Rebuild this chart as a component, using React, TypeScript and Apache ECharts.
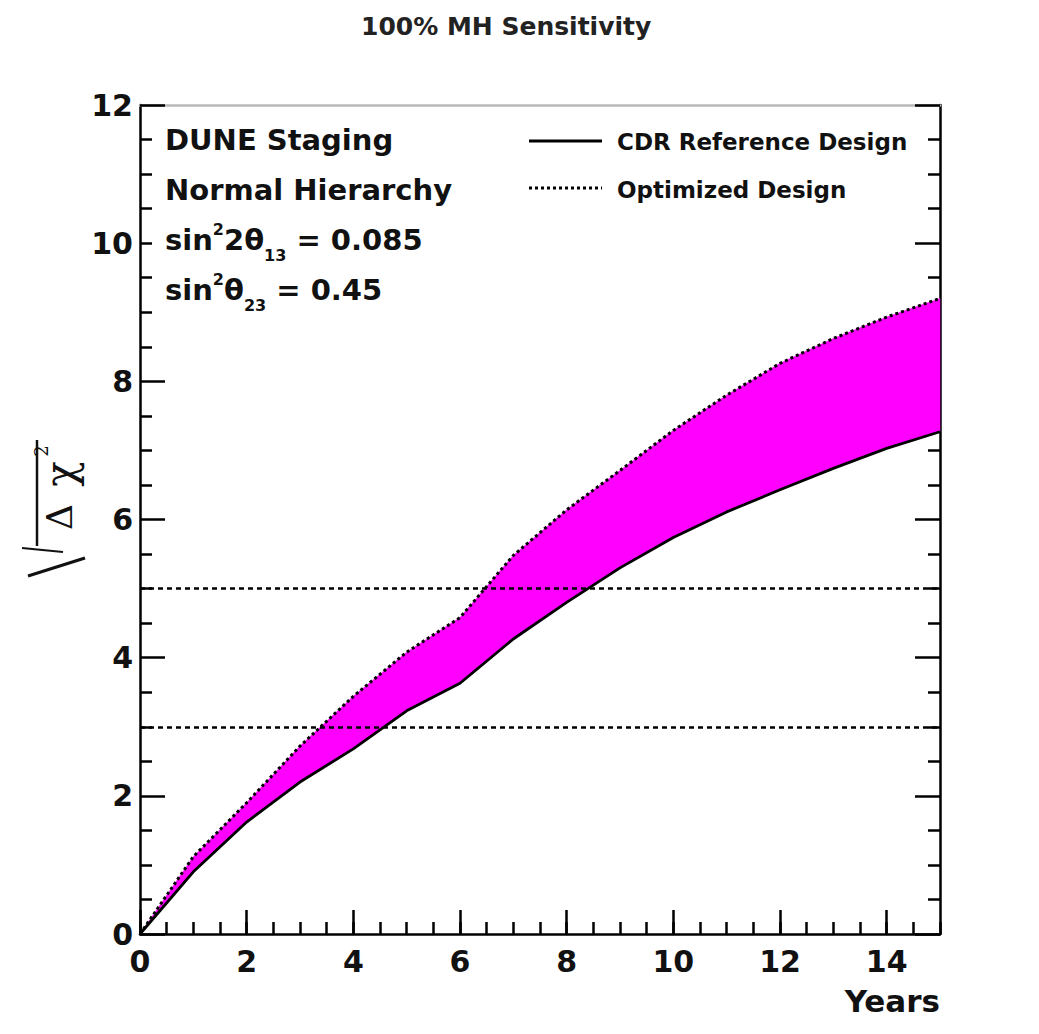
import React, { useEffect, useRef } from "react";
import * as echarts from "echarts";

// ---- data ----
const years = [0, 1, 2, 3, 4, 5, 6, 7, 8, 9, 10, 11, 12, 13, 14, 15];
const cdrReference = [0, 0.9, 1.62, 2.2, 2.68, 3.23, 3.63, 4.27, 4.8, 5.3, 5.74, 6.11, 6.43, 6.74, 7.03, 7.27];
const optimized = [0, 1.12, 1.9, 2.72, 3.44, 4.08, 4.58, 5.48, 6.14, 6.71, 7.29, 7.8, 8.26, 8.62, 8.93, 9.2];
const referenceLevels = [3, 5];
const seriesNames = ["CDR Reference Design", "Optimized Design"];
const titleText = "100% MH Sensitivity";
const xAxisName = "Years";

const SANS = '"DejaVu Sans"';
const SERIF = '"DejaVu Serif"';

function measure(text: string, font: string): number {
  const c = document.createElement("canvas").getContext("2d");
  if (!c) return text.length * 10;
  c.font = font;
  return c.measureText(text).width;
}

type Seg = { t: string; size: number; dy: number };

function segText(x0: number, yc: number, segs: Seg[], z: number) {
  let x = x0;
  const out: any[] = [];
  for (const s of segs) {
    const font = `bold ${s.size}px ${SANS}`;
    out.push({
      type: "text",
      z,
      x,
      y: yc + s.dy,
      style: {
        text: s.t,
        font,
        fill: "#111",
        align: "left",
        verticalAlign: "middle",
        textAlign: "left",
        textVerticalAlign: "middle",
      },
    });
    x += measure(s.t, font);
  }
  return out;
}

function txt(x: number, y: number, text: string, size: number, align: string, extra: any = {}) {
  const { font, ...rest } = extra;
  return {
    type: "text",
    z: 60,
    x,
    y,
    ...rest,
    style: {
      text,
      font: font || `bold ${size}px ${SANS}`,
      fill: "#111",
      align,
      verticalAlign: "middle",
      textAlign: align,
      textVerticalAlign: "middle",
    },
  };
}

export default function App() {
  const ref = useRef<HTMLDivElement>(null);

  useEffect(() => {
    if (!ref.current) return;
    const chart = echarts.init(ref.current, null, { renderer: "svg" });

    const axisFont = { fontFamily: SANS, fontWeight: "bold" as const, fontSize: 30, color: "#111" };
    const black = "#000";

    const graphic: any[] = [
      // white text pave covering ticks
      { type: "rect", z: 50, shape: { x: 152, y: 110, width: 320, height: 250 }, style: { fill: "#fff" } },
      txt(165, 140, "DUNE Staging", 29, "left"),
      txt(165, 189.5, "Normal Hierarchy", 29, "left"),
      ...segText(165, 239.5, [
        { t: "sin", size: 29, dy: 0 },
        { t: "2", size: 16, dy: -10.5 },
        { t: "2θ", size: 29, dy: 0 },
        { t: "13", size: 16, dy: 15.5 },
        { t: " = 0.085", size: 29, dy: 0 },
      ], 60),
      ...segText(165, 289.5, [
        { t: "sin", size: 29, dy: 0 },
        { t: "2", size: 16, dy: -10.5 },
        { t: "θ", size: 29, dy: 0 },
        { t: "23", size: 16, dy: 15.5 },
        { t: " = 0.45", size: 29, dy: 0 },
      ], 60),
      // legend
      { type: "line", z: 60, shape: { x1: 529, y1: 141, x2: 602, y2: 141 }, style: { stroke: black, lineWidth: 3 } },
      { type: "line", z: 60, shape: { x1: 529, y1: 188, x2: 602, y2: 188 }, style: { stroke: black, lineWidth: 3, lineDash: [3, 3] } },
      txt(617, 142, seriesNames[0], 23, "left"),
      txt(617, 189.5, seriesNames[1], 23, "left"),
      // x axis name
      txt(940, 1001, xAxisName, 31, "right"),
      // y axis label: sqrt(Delta chi^2)
      { type: "line", z: 60, shape: { x1: 37, y1: 440, x2: 37, y2: 546 }, style: { stroke: "#111", lineWidth: 2.5 } },
      { type: "line", z: 60, shape: { x1: 22, y1: 548, x2: 63, y2: 552 }, style: { stroke: "#111", lineWidth: 2 } },
      { type: "line", z: 60, shape: { x1: 28, y1: 576, x2: 85, y2: 558 }, style: { stroke: "#111", lineWidth: 3 } },
      txt(59, 517, "Δ", 36, "center", { rotation: Math.PI / 2, font: `36px ${SERIF}` }),
      txt(60, 474, "χ", 42, "center", { rotation: Math.PI / 2, font: `42px ${SERIF}` }),
      txt(41, 451, "2", 18, "center", { rotation: Math.PI / 2, font: `18px ${SERIF}` }),
    ];

    const xBase = (extra: any) => ({
      type: "value",
      min: 0,
      max: 15,
      splitLine: { show: false },
      ...extra,
    });

    const yBase = (extra: any) => ({
      type: "value",
      min: 0,
      max: 12,
      interval: 2,
      axisLine: { show: true, onZero: false, lineStyle: { color: black, width: 2.5 } },
      axisTick: { show: true, inside: true, length: 25, lineStyle: { color: black, width: 2.5 } },
      minorTick: { show: true, splitNumber: 4, length: 12, lineStyle: { color: black, width: 2.5 } },
      splitLine: { show: false },
      ...extra,
    });

    const option: any = {
      animation: false,
      backgroundColor: "#fff",
      title: {
        text: titleText,
        left: 361,
        top: 14,
        padding: 0,
        textStyle: { fontFamily: SANS, fontWeight: "bold", fontSize: 25, color: "#222" },
      },
      grid: { left: 140, top: 105, width: 800, height: 829, show: false, containLabel: false },
      xAxis: [
        xBase({
          interval: 2,
          position: "bottom",
          axisLine: { show: true, onZero: false, lineStyle: { color: black, width: 2.5 } },
          axisTick: { show: true, inside: true, length: 24, lineStyle: { color: black, width: 2.5 } },
          axisLabel: { ...axisFont, margin: 12, showMaxLabel: false },
        }),
        xBase({
          interval: 0.5,
          position: "bottom",
          axisLine: { show: false, onZero: false },
          axisTick: { show: true, inside: true, length: 12, lineStyle: { color: black, width: 2.5 } },
          axisLabel: { show: false },
        }),
        xBase({
          position: "top",
          axisLine: { show: true, onZero: false, lineStyle: { color: "#b8b8b8", width: 2.5 } },
          axisTick: { show: false },
          axisLabel: { show: false },
        }),
      ],
      yAxis: [
        yBase({ position: "left", axisLabel: { ...axisFont, margin: 7 } }),
        yBase({ position: "right", axisLabel: { show: false } }),
      ],
      series: [
        {
          type: "custom",
          name: "band",
          coordinateSystem: "cartesian2d",
          xAxisIndex: 0,
          yAxisIndex: 0,
          silent: true,
          z: 1,
          data: years.map((x, i) => [x, cdrReference[i], optimized[i]]),
          encode: { x: 0, y: [1, 2] },
          renderItem: (params: any, api: any) => {
            if (params.dataIndex !== 0) return null;
            const pts: number[][] = [];
            years.forEach((x, i) => pts.push(api.coord([x, optimized[i]])));
            for (let i = years.length - 1; i >= 0; i--) pts.push(api.coord([years[i], cdrReference[i]]));
            return {
              type: "polygon",
              shape: { points: pts },
              style: { fill: "#ff00ff", stroke: "#ff00ff", lineWidth: 0.5 },
            };
          },
        },
        {
          type: "line",
          name: seriesNames[0],
          xAxisIndex: 0,
          yAxisIndex: 0,
          z: 3,
          symbol: "none",
          showSymbol: false,
          data: years.map((x, i) => [x, cdrReference[i]]),
          lineStyle: { color: black, width: 2.8 },
          markLine: {
            silent: true,
            symbol: "none",
            label: { show: false },
            lineStyle: { color: black, width: 2.5, type: [5, 4] },
            data: referenceLevels.map((v) => ({ yAxis: v })),
          },
        },
        {
          type: "line",
          name: seriesNames[1],
          xAxisIndex: 0,
          yAxisIndex: 0,
          z: 3,
          symbol: "none",
          showSymbol: false,
          data: years.map((x, i) => [x, optimized[i]]),
          lineStyle: { color: black, width: 3, type: [3, 3] },
        },
      ],
      graphic,
    };

    chart.setOption(option);
    return () => chart.dispose();
  }, []);

  return (
    <div
      ref={ref}
      style={{ position: "fixed", left: 0, top: 0, width: 1039, height: 1034, background: "#fff" }}
    />
  );
}
